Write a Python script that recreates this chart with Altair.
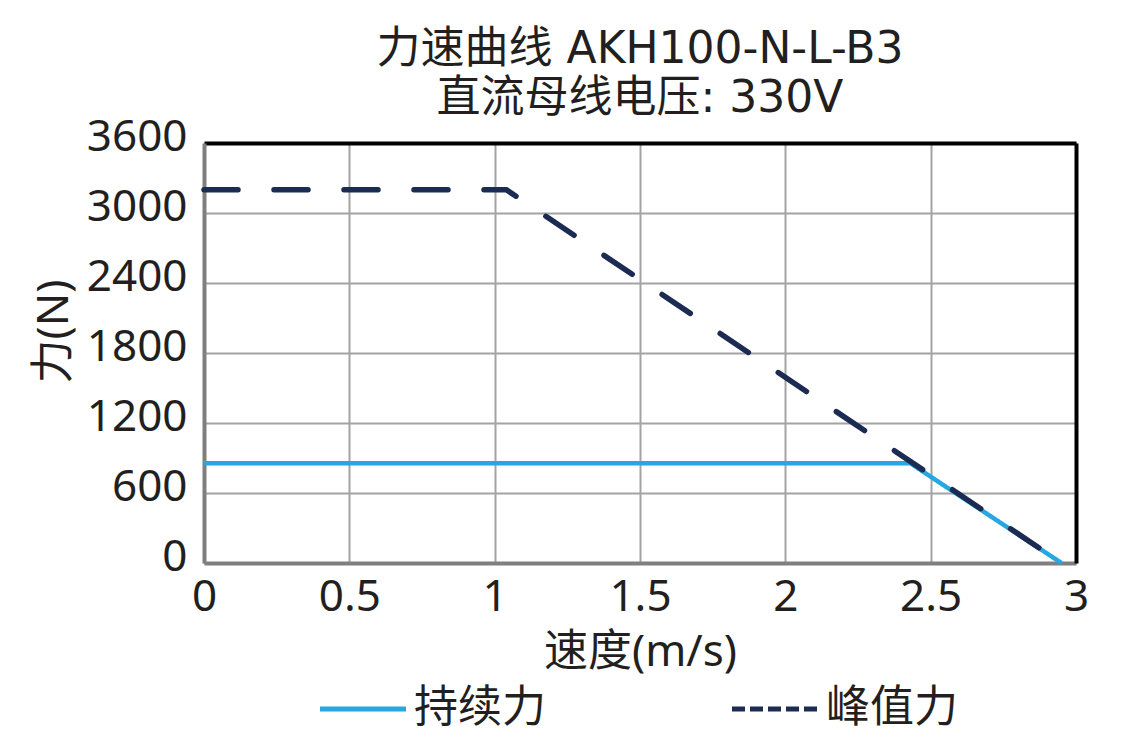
import altair as alt
import pandas as pd

series_names = ["持续力", "峰值力"]
cont_speed = [0, 2.43, 2.95]
cont_force = [855, 855, 0]
peak_speed = [0, 1.04, 2.95]
peak_force = [3200, 3200, 0]
x_ticks = [0, 0.5, 1, 1.5, 2, 2.5, 3]
y_ticks = [0, 600, 1200, 1800, 2400, 3000, 3600]

cont = pd.DataFrame({"speed": cont_speed, "force": cont_force, "series": series_names[0]})
peak = pd.DataFrame({"speed": peak_speed, "force": peak_force, "series": series_names[1]})

# latin glyphs from Noto Sans, CJK falls back to Noto Sans CJK SC
FONT = "'Noto Sans', 'Noto Sans CJK SC'"
TITLE_FONT = "'DejaVu Sans', 'Noto Sans CJK SC'"
INK = "#231f20"
GRID = "#a3a3a3"

x_scale = alt.Scale(domain=[0, 3], nice=False)
y_scale = alt.Scale(domain=[0, 3600], nice=False)

legend = alt.Legend(
    title=None, orient="none", direction="horizontal",
    legendX=113, legendY=520,
    symbolType="stroke", symbolSize=7400, symbolStrokeWidth=5,
    labelFont=FONT, labelFontSize=44, labelColor=INK,
    labelOffset=5, columnPadding=175,
)
color = alt.Color("series:N", scale=alt.Scale(domain=series_names, range=["#27a7df", "#1b2b52"]),
                  legend=legend)
# dash scale only feeds the legend symbols (short dashes there)
dash = alt.StrokeDash("series:N", scale=alt.Scale(domain=series_names, range=[[1, 0], [13, 5]]),
                      legend=legend)

label_style = dict(labelFont=FONT, labelFontSize=44, labelColor=INK,
                   titleFont=FONT, titleFontSize=44, titleColor=INK, titleFontWeight="normal")

# continuous force, carries the bottom / left axes and grid
cont_line = alt.Chart(cont).mark_line(strokeWidth=4.5).encode(
    x=alt.X("speed:Q", scale=x_scale, axis=alt.Axis(
        orient="bottom", values=x_ticks, format="~g", ticks=False, labelFlush=False,
        grid=True, gridColor=GRID, gridWidth=2,
        domainColor="#7f7f7f", domainWidth=4, labelPadding=12,
        title="速度(m/s)", titlePadding=11, zindex=0, **label_style)),
    y=alt.Y("force:Q", scale=y_scale, axis=alt.Axis(
        orient="left", values=y_ticks, format="d", ticks=False, labelOffset=-6,
        grid=True, gridColor=GRID, gridWidth=2,
        domainColor="#7f7f7f", domainWidth=4, labelPadding=17,
        title="力(N)", titleX=-150, titleY=188, titleAlign="center",
        titleBaseline="middle", zindex=0, **label_style)),
    color=color,
    strokeDash=dash,
)

# peak force, carries the black top / right frame
peak_line = alt.Chart(peak).mark_line(
    strokeWidth=5.5, strokeCap="round", strokeDash=[34, 36]
).encode(
    x=alt.X("speed:Q", scale=x_scale, axis=alt.Axis(
        orient="top", labels=False, ticks=False, grid=False,
        domainColor="black", domainWidth=4, title="", zindex=0)),
    y=alt.Y("force:Q", scale=y_scale, axis=alt.Axis(
        orient="right", labels=False, ticks=False, grid=False,
        domainColor="black", domainWidth=4, title="", zindex=0)),
    color=color,
)

chart = alt.layer(cont_line, peak_line).resolve_axis(
    x="independent", y="independent"
).properties(
    width=872,
    height=420,
    autosize=alt.AutoSizeParams(type="none"),
    padding={"left": 196, "top": 135, "right": 45, "bottom": 180},
    title=alt.Title(["力速曲线 AKH100-N-L-B3", "直流母线电压: 330V"],
                    font=TITLE_FONT, fontSize=44, fontWeight="normal", color=INK,
                    lineHeight=49, anchor="middle", offset=-6),
).configure_view(stroke="transparent").configure(background="white")

chart.save("out.html", embed_options={"renderer": "svg", "actions": False})
